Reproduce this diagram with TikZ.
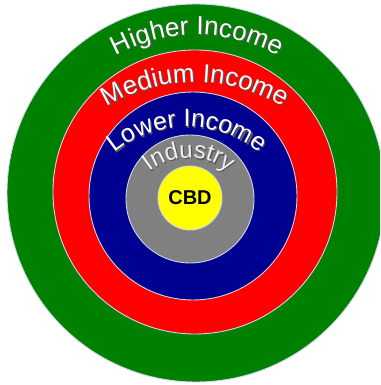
\documentclass[tikz,border=0pt]{standalone}
\usepackage{fontspec}
\setmainfont{Liberation Sans}
\usetikzlibrary{decorations.text}
\definecolor{ringgreen}{RGB}{0,128,0}
\definecolor{ringred}{RGB}{255,0,0}
\definecolor{ringblue}{RGB}{0,0,145}
\definecolor{ringgray}{RGB}{128,128,128}
\definecolor{ringyellow}{RGB}{255,255,0}
\definecolor{rimline}{RGB}{205,215,225}
\tikzset{
  ring/.style={circle, draw=rimline, line width=0.9pt, inner sep=0pt, minimum size=#1},
}
% #1 cx, #2 cy, #3 radius, #4 font size, #5 text colour, #6 text
\newcommand\arclabel[6]{%
  \path[decorate, decoration={text along path, text align=center, text color=black!65,
    text={|\fontsize{#4}{#4}\selectfont|#6}}]
    (#1+1.2,#2-1.2) ++(150:#3pt) arc[start angle=150, end angle=30, radius=#3pt];
  \path[decorate, decoration={text along path, text align=center, text color=#5,
    text={|\fontsize{#4}{#4}\selectfont|#6}}]
    (#1,#2) ++(150:#3pt) arc[start angle=150, end angle=30, radius=#3pt];
}
\begin{document}
\begin{tikzpicture}[x=1pt,y=1pt]
  \useasboundingbox (0,0) rectangle (380,385);
  \fill[white] (0,0) rectangle (380,385);
  \begin{scope}
    \clip (0,0) rectangle (380,385);
    \node[ring=378pt, fill=ringgreen] (higher) at (196,192) {};
    \node[ring=284pt, fill=ringred] (medium) at (195,193) {};
    \node[ring=208pt, fill=ringblue] (lower) at (193,189) {};
    \node[ring=128pt, fill=ringgray] (industry) at (190,186) {};
    \node[ring=64pt, fill=ringyellow] (cbd) at (190,187) {};
  \end{scope}
  \node[font=\fontsize{20}{20}\selectfont\bfseries, text=black] (cbdlabel) at (cbd) {CBD};
  \arclabel{197}{180}{170}{26}{white}{Higher Income}
  \arclabel{195}{136}{167}{26}{white}{Medium Income}
  \arclabel{187}{145}{113}{25}{white}{Lower Income}
  \arclabel{189}{164}{63}{24}{white!88!gray}{Industry}
\end{tikzpicture}
\end{document}
